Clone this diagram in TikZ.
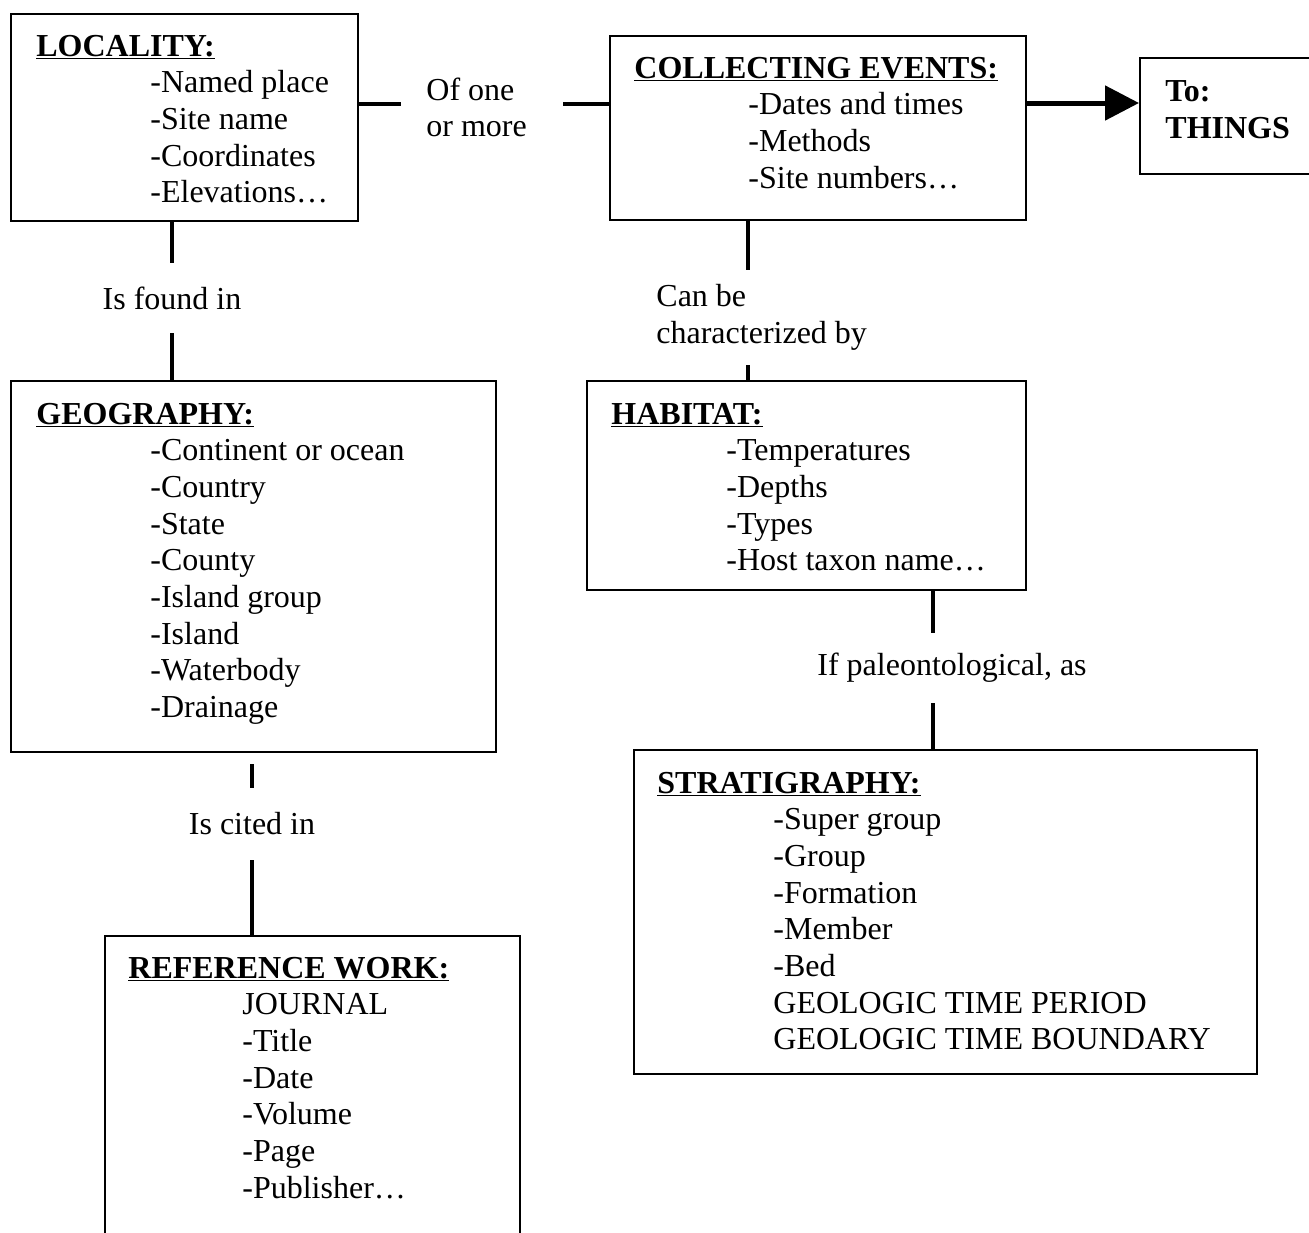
\documentclass[tikz,border=0pt]{standalone}
\usepackage{fontspec}
\setmainfont{Liberation Serif}
\usetikzlibrary{arrows.meta,backgrounds}
\newcommand{\hd}[1]{\setbox0\hbox{\textbf{#1}}\rlap{\rule[-1.7pt]{\wd0}{0.9pt}}\box0}
\begin{document}
\begin{tikzpicture}[x=0.5pt,y=-0.5pt,
  box/.style={draw, line width=1pt, inner sep=0, anchor=north west, rectangle},
  txt/.style={inner sep=0, anchor=base west, font=\fontsize{16pt}{18.35pt}\selectfont},
  lab/.style={fill=white, inner sep=0, align=left, font=\fontsize{16pt}{18.35pt}\selectfont},
  conn/.style={line width=1.7pt},
  arr/.style={line width=2.5pt, -{Triangle[length=17pt,width=17pt]}}]
\useasboundingbox (0,0) rectangle (1309,1232);
\clip (0,0) rectangle (1309,1232);

% boxes
\node[box, minimum width=173.5pt, minimum height=103.5pt] (loc) at (10,13) {};
\node[box, minimum width=208pt, minimum height=92pt] (coll) at (609,35) {};
\node[box, minimum width=125pt, minimum height=58pt] (things) at (1139,57) {};
\node[box, minimum width=242.5pt, minimum height=185.5pt] (geo) at (10,380) {};
\node[box, minimum width=219.5pt, minimum height=104.5pt] (hab) at (586,380) {};
\node[box, minimum width=311.5pt, minimum height=162pt] (strat) at (633,749) {};
\node[box, minimum width=207.5pt, minimum height=165pt] (ref) at (104,935) {};

% texts
\node[txt] (locH) at (36,56) {\hd{LOCALITY:}};
\foreach \t [count=\i] in {-Named place,-Site name,-Coordinates,-Elevations…}
  \node[txt] (loc\i) at (150,{56+36.7*\i}) {\t};

\node[txt] (collH) at (634,78) {\hd{COLLECTING EVENTS:}};
\foreach \t [count=\i] in {-Dates and times,-Methods,-Site numbers…}
  \node[txt] (coll\i) at (748,{78+36.7*\i}) {\t};

\node[txt] (thingsA) at (1165,101) {\textbf{To:}};
\node[txt] (thingsB) at (1165,138) {\textbf{THINGS}};

\node[txt] (geoH) at (36,424) {\hd{GEOGRAPHY:}};
\foreach \t [count=\i] in {-Continent or ocean,-Country,-State,-County,-Island group,-Island,-Waterbody,-Drainage}
  \node[txt] (geo\i) at (150,{424+36.7*\i}) {\t};

\node[txt] (habH) at (611,424) {\hd{HABITAT:}};
\foreach \t [count=\i] in {-Temperatures,-Depths,-Types,-Host taxon name…}
  \node[txt] (hab\i) at (726,{424+36.7*\i}) {\t};

\node[txt] (stratH) at (657,793) {\hd{STRATIGRAPHY:}};
\foreach \t [count=\i] in {-Super group,-Group,-Formation,-Member,-Bed,GEOLOGIC TIME PERIOD,GEOLOGIC TIME BOUNDARY}
  \node[txt] (strat\i) at (773,{793+36.7*\i}) {\t};

\node[txt] (refH) at (128,978) {\hd{REFERENCE WORK:}};
\foreach \t [count=\i] in {JOURNAL,-Title,-Date,-Volume,-Page,-Publisher…}
  \node[txt] (ref\i) at (242,{978+36.7*\i}) {\t};

% connector labels
\node[lab, anchor=west, inner xsep=12.5pt, text width=56pt, align=flush left] (ofone) at (401,107.5) {Of one\\or more};
\node[lab, minimum height=35pt] (found) at (172,298) {Is found in};
\node[lab, minimum height=36pt] (cited) at (252,824) {Is cited in};
\node[lab, anchor=west, minimum height=47.5pt] (can) at (656,317) {Can be\\characterized by};
\node[lab, minimum height=35pt] (paleo) at (952,668) {If paleontological, as};

\coordinate (cv) at (748,0);
\coordinate (pv) at (933,0);
\coordinate (av) at (0,103);

% connectors
\begin{scope}[on background layer]
\draw[conn] (loc.east |- 0,104) -- (coll.west |- 0,104);
\draw[conn] (loc.south -| found) -- (geo.north -| found);
\draw[conn, shorten <=5.5pt] (geo.south -| cited) -- (ref.north -| cited);
\draw[conn] (coll.south -| cv) -- (hab.north -| cv);
\draw[conn] (hab.south -| pv) -- (strat.north -| pv);
\end{scope}
\draw[arr] (coll.east |- av) -- (things.west |- av);
\end{tikzpicture}
\end{document}
